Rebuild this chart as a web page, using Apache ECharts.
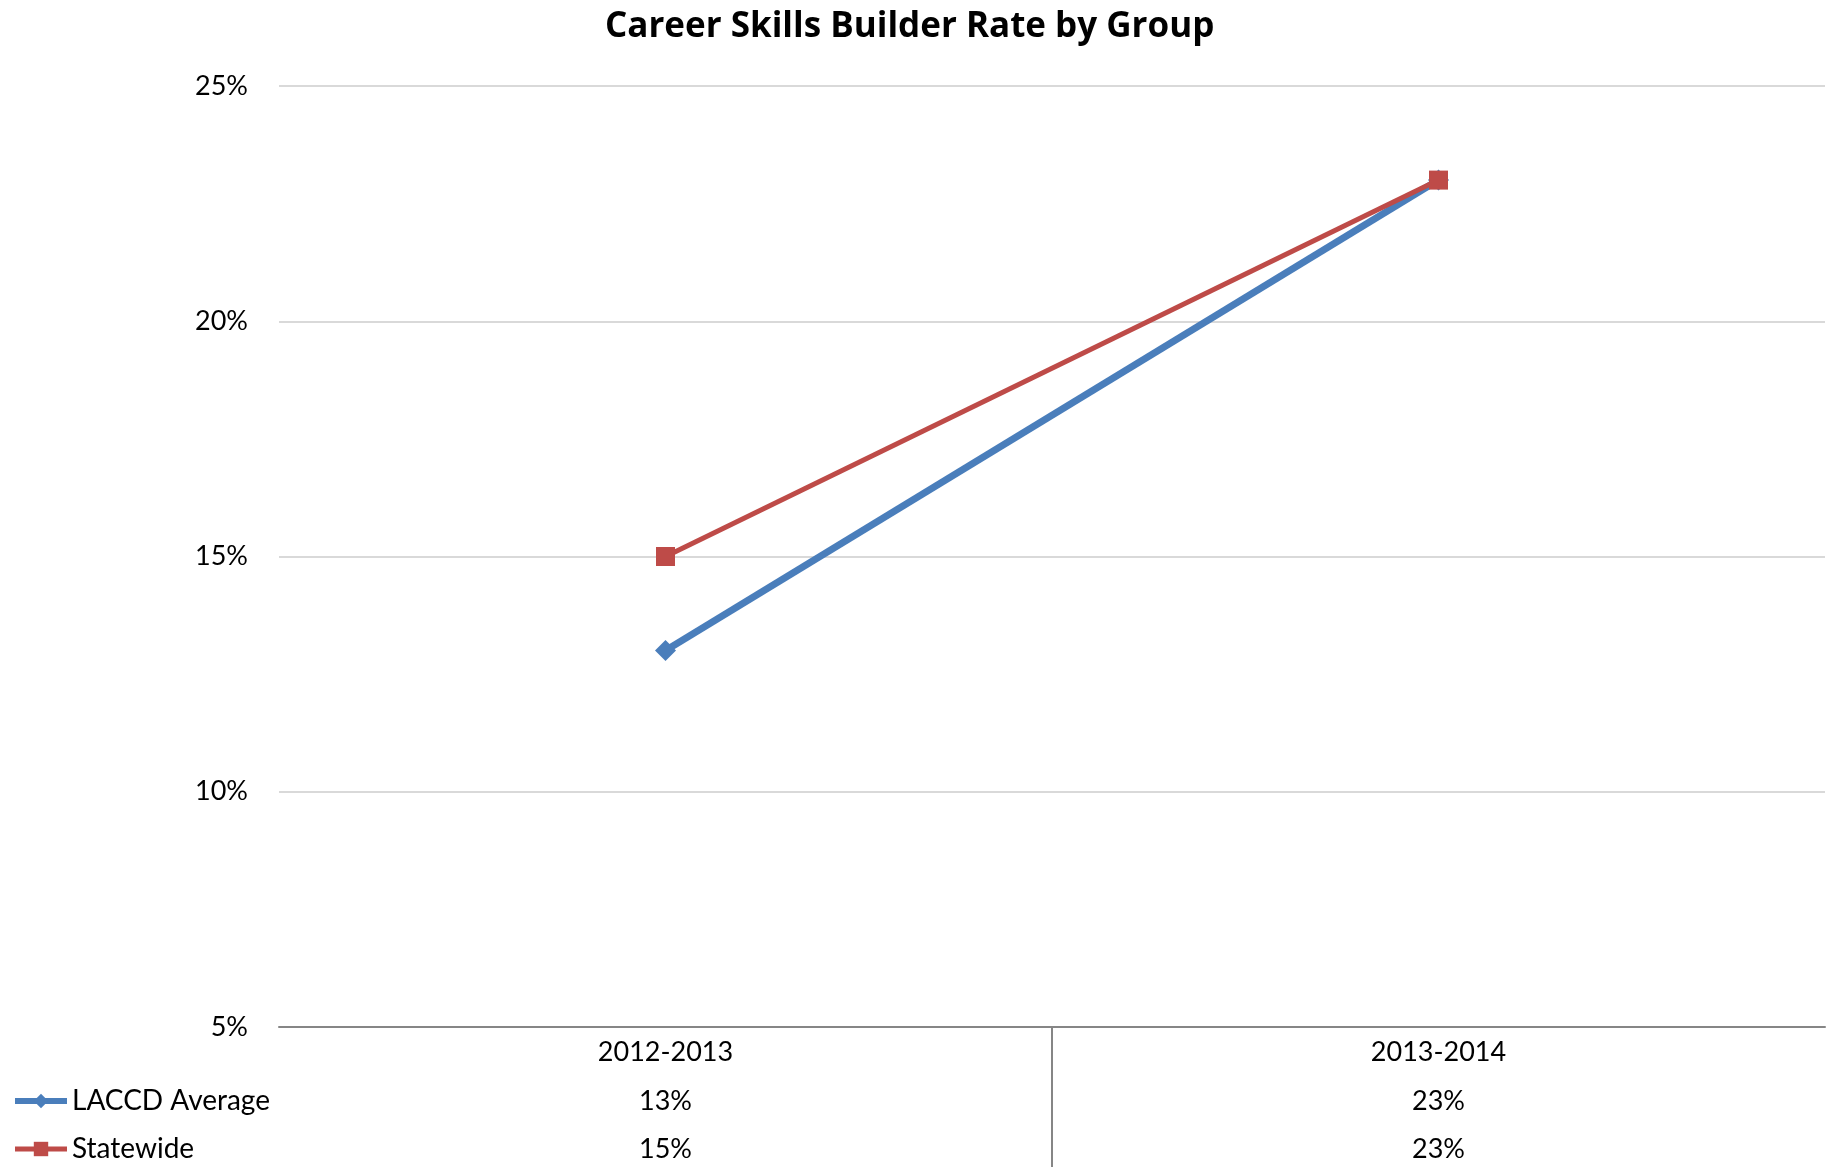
<!DOCTYPE html>
<html>
<head>
<meta charset="utf-8">
<script src="https://cdn.jsdelivr.net/npm/echarts@6/dist/echarts.min.js"></script>
<style>
  html, body { margin: 0; padding: 0; background: #fff; }
  #chart { width: 1845px; height: 1167px; }
</style>
</head>
<body>
<div id="chart"></div>
<script>
  // data
  var years = ['2012-2013', '2013-2014']
  var laccd = [13, 23]
  var statewide = [15, 23]
  var seriesNames = ['LACCD Average', 'Statewide']
  var yTicks = [5, 10, 15, 20, 25]

  var font = 'Lato, "Open Sans", sans-serif'
  var blue = '#4a7ebb'
  var red = '#be4b48'

  var myChart = echarts.init(document.getElementById('chart'))

  // 表格行 (values under the axis)
  function rowAxis(values, offset) {
    return {
      type: 'category',
      data: years,
      gridIndex: 0,
      position: 'bottom',
      offset: offset,
      axisLine: {show: false},
      axisTick: {show: false},
      axisLabel: {
        margin: 0,
        color: '#000',
        fontFamily: font,
        fontSize: 27,
        formatter: function (v, i) { return values[i] + '%' }
      }
    }
  }

  myChart.setOption({
    animation: false,
    title: {
      text: 'Career Skills Builder Rate by Group',
      left: 600,
      top: 5,
      textStyle: {fontFamily: '"Open Sans", sans-serif', fontSize: 35, fontWeight: 'bold', color: '#000'}
    },
    legend: {
      data: [
        {name: seriesNames[0], lineStyle: {width: 6}},
        {name: seriesNames[1], lineStyle: {width: 5}}
      ],
      orient: 'vertical',
      left: 12,
      top: 1085,
      padding: 0,
      itemWidth: 52,
      itemHeight: 18,
      itemGap: 16,
      textStyle: {fontFamily: font, fontSize: 28, color: '#000', lineHeight: 32}
    },
    grid: [
      {left: 279, right: 20, top: 86, bottom: 140},
      // table area below the axis, only for the column divider
      {left: 279, right: 20, top: 1027, bottom: 0}
    ],
    xAxis: [
      {
        type: 'category',
        data: years,
        gridIndex: 0,
        axisLine: {lineStyle: {color: '#868686', width: 2}},
        axisTick: {show: false},
        axisLabel: {margin: 12, color: '#000', fontFamily: font, fontSize: 27}
      },
      rowAxis(laccd, 61),
      rowAxis(statewide, 109),
      {
        type: 'value',
        gridIndex: 1,
        min: 0,
        max: years.length,
        interval: 1,
        axisLine: {show: false},
        axisTick: {show: false},
        axisLabel: {show: false},
        splitLine: {
          show: true,
          showMinLine: false,
          showMaxLine: false,
          lineStyle: {color: '#868686', width: 2}
        }
      }
    ],
    yAxis: [
      {
        type: 'value',
        gridIndex: 0,
        min: yTicks[0],
        max: yTicks[yTicks.length - 1],
        interval: 5,
        axisLine: {show: false},
        axisTick: {show: false},
        splitLine: {lineStyle: {color: '#d9d9d9', width: 2}},
        axisLabel: {
          margin: 31,
          color: '#000',
          fontFamily: font,
          fontSize: 27,
          formatter: '{value}%'
        }
      },
      {
        type: 'value',
        gridIndex: 1,
        show: false,
        splitLine: {show: false}
      }
    ],
    series: [
      {
        name: seriesNames[0],
        type: 'line',
        data: laccd,
        symbol: 'diamond',
        symbolSize: 21,
        lineStyle: {color: blue, width: 7},
        itemStyle: {color: blue}
      },
      {
        name: seriesNames[1],
        type: 'line',
        data: statewide,
        symbol: 'rect',
        symbolSize: 19,
        lineStyle: {color: red, width: 5},
        itemStyle: {color: red}
      }
    ]
  })
</script>
</body>
</html>
